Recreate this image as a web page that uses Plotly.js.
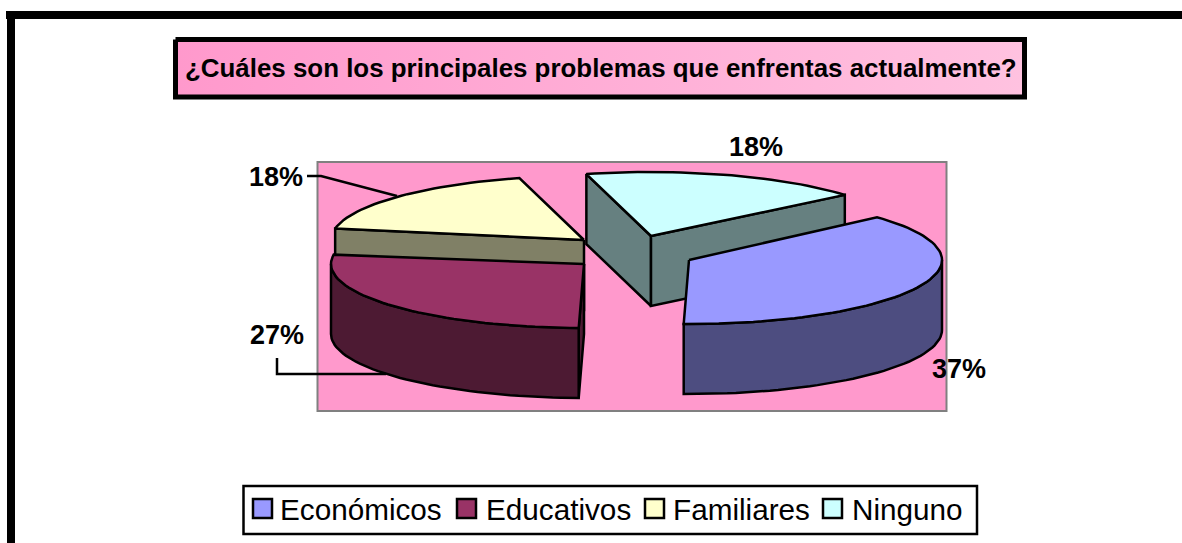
<!DOCTYPE html>
<html><head><meta charset="utf-8">
<script src="https://cdn.plot.ly/plotly-3.0.1.min.js"></script>
<style>html,body{margin:0;padding:0;background:#fff;overflow:hidden}</style></head>
<body><div id="chart" style="width:1182px;height:543px"></div>
<script>
const chartTitle = "¿Cuáles son los principales problemas que enfrentas actualmente?";
const categories = ["Económicos", "Educativos", "Familiares", "Ninguno"];
const values = [37, 27, 18, 18];
const topColors = ["#9999FF", "#993366", "#FFFFCC", "#CCFFFF"];
const wallColors = ["#4D4D80", "#4D1A33", "#808066", "#668080"];

// 3-D pie projection (pixel axes): each slice's exploded apex, ellipse radii, extrusion depth
const apexX = [689, 584, 584, 651];
const apexY = [260, 264, 240, 236];
const sliceTurn = [0, 0, -2, -2];   // small rotation standing in for the original's perspective
const radiusX = 253, radiusY = 64, depth = 70, firstAngle = 42;
const drawOrder = [3, 2, 1, 0];
const edgeWidth = 2.5;

const total = values.reduce((a, b) => a + b, 0);
const sweeps = []; let cursor = firstAngle;
values.forEach((v, i) => { const next = cursor - 360 * v / total;
  sweeps.push([cursor + sliceTurn[i], next + sliceTurn[i]]); cursor = next; });

function rim(i, deg, drop) {
  const r = deg * Math.PI / 180;
  return [apexX[i] + radiusX * Math.cos(r), apexY[i] - radiusY * Math.sin(r) + (drop || 0)];
}
function arc(i, a, b, drop) {
  const pts = [], n = Math.max(2, Math.ceil(Math.abs(a - b) / 2));
  for (let k = 0; k <= n; k++) pts.push(rim(i, a + (b - a) * k / n, drop));
  return pts;
}
function poly(pts, color) {
  return { type: "scatter", mode: "lines", x: pts.map(p => p[0]), y: pts.map(p => p[1]),
    fill: "toself", fillcolor: color, line: { color: "#000", width: edgeWidth, shape: "linear" },
    hoverinfo: "skip", showlegend: false, cliponaxis: false };
}
const cosd = d => Math.cos(d * Math.PI / 180);
const traces = [];
// title box with horizontal gradient
traces.push({ type: "scatter", mode: "lines", x: [175.5, 1024.5, 1024.5, 175.5, 175.5], y: [39.5, 39.5, 97, 97, 39.5],
  fill: "toself", line: { color: "#000", width: 5 }, hoverinfo: "skip", showlegend: false, cliponaxis: false,
  fillgradient: { type: "horizontal", colorscale: [[0, "#FF99CC"], [1, "#FFC2E0"]] } });

drawOrder.forEach(i => {
  const [a, b] = sweeps[i];
  const apex = [apexX[i], apexY[i]];
  const wall = deg => { const p = rim(i, deg), q = rim(i, deg, depth);
    return [apex, p, q, [apex[0], apex[1] + depth], apex]; };
  // radial cut faces: only those turned toward the viewer
  if (cosd(a) < 0) traces.push(poly(wall(a), wallColors[i]));
  if (cosd(b) > 0) traces.push(poly(wall(b), wallColors[i]));
  // outer curved wall: only the part of the rim facing the viewer
  const fa = Math.min(a, 0), fb = Math.max(b, -180);
  if (fa > fb) {
    const upper = arc(i, fa, fb, 0), lower = arc(i, fb, fa, depth);
    const ring = upper.concat(lower); ring.push(upper[0]);
    traces.push(poly(ring, wallColors[i]));
  }
  const top = [apex].concat(arc(i, a, b, 0)); top.push(apex);
  traces.push(poly(top, topColors[i]));
});

const font = { family: "Liberation Sans, Arial, sans-serif", color: "#000" };
const label = (x, y, text, size, bold, anchor) => ({ x, y, xref: "x", yref: "y", text: bold ? "<b>" + text + "</b>" : text,
  showarrow: false, xanchor: anchor || "center", yanchor: "middle", borderpad: 0,
  font: Object.assign({ size }, font) });

const pct = values.map(v => Math.round(100 * v / total) + "%");
const annotations = [
  label(601, 68, chartTitle, 25.9, true),
  label(959, 369, pct[0], 27, true),
  label(277, 335, pct[1], 27, true),
  label(276, 177, pct[2], 27, true),
  label(756, 147, pct[3], 27, true)
];
const legendSwatchX = [253, 457, 645, 823];
const legendTextX = [278.5, 484.5, 671.5, 850.5];
const rect = (x0, y0, x1, y1, fill, line, w, layer) => ({ type: "rect", xref: "x", yref: "y", x0, y0, x1, y1,
  fillcolor: fill, line: { color: line, width: w }, layer: layer || "above" });
const shapes = [
  rect(6, 11, 1182, 19, "#000", "#000", 0, "below"),
  rect(7, 11, 15, 543, "#000", "#000", 0, "below"),
  rect(317.5, 162, 946.5, 411, "#FF99CC", "#808080", 2, "below"),
  rect(243.5, 486, 977, 534, "#fff", "#000", 2.5, "below"),
  { type: "path", path: "M307,176 L321,176 L397,196", line: { color: "#000", width: 2.5 }, layer: "above" },
  { type: "path", path: "M277,358 L277,374 L386,374", line: { color: "#000", width: 2.5 }, layer: "above" }
];
categories.forEach((c, i) => {
  shapes.push(rect(legendSwatchX[i], 499, legendSwatchX[i] + 19, 518, topColors[i], "#000", 2.5));
  annotations.push(label(legendTextX[i], 509, c, 29.7, false, "left"));
});

Plotly.newPlot("chart", traces, {
  width: 1182, height: 543, margin: { l: 0, r: 0, t: 0, b: 0, pad: 0 },
  paper_bgcolor: "#fff", plot_bgcolor: "rgba(0,0,0,0)", showlegend: false,
  xaxis: { range: [0, 1182], visible: false, fixedrange: true },
  yaxis: { range: [543, 0], visible: false, fixedrange: true },
  shapes, annotations
}, { displayModeBar: false, staticPlot: true });
</script></body></html>
